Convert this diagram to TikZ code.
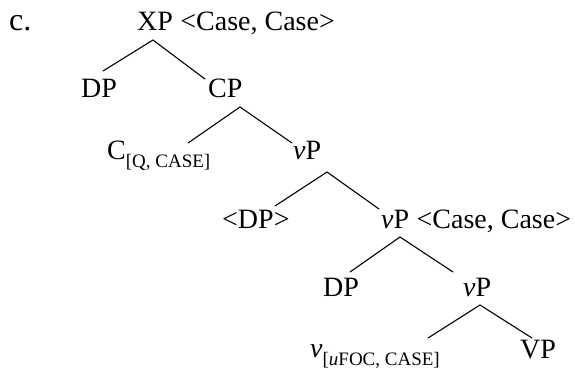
\documentclass[tikz,border=0pt]{standalone}
\usepackage{fontspec}
\setmainfont{Liberation Serif}
\usetikzlibrary{calc}
% lowered feature bundle on a head
\newcommand\featsub[1]{\raisebox{-8.5pt}{\fontsize{19}{19}\selectfont #1}}
\tikzset{
  lbl/.style={anchor=base west, inner sep=0pt, font=\fontsize{28}{34}\selectfont},
  branch/.style={line width=1.1pt, line cap=round},
}
\begin{document}
\begin{tikzpicture}[x=1pt,y=1pt]
\useasboundingbox (0,0) rectangle (575,-370);

% labels
\node[lbl, font=\fontsize{32}{38}\selectfont] (ex) at (9,-30) {c.};
\node[lbl] (XP)  at (137,-30) {XP};
\node[lbl] (xpf) at ($(XP.base east)+(7,0)$) {<Case, Case>};
\node[lbl] (DPa) at (81,-97)  {DP};
\node[lbl] (CP)  at (208,-97) {CP};
\node[lbl] (C)   at (107,-159) {C\featsub{[Q, CASE]}};
\node[lbl] (vPa) at (293,-159) {\textit{v}P};
\node[lbl] (DPt) at (222,-228) {<DP>};
\node[lbl] (vPb) at (381,-228) {\textit{v}P};
\node[lbl] (vpf) at ($(vPb.base east)+(7,0)$) {<Case, Case>};
\node[lbl] (DPb) at (323,-296) {DP};
\node[lbl] (vPc) at (463,-296) {\textit{v}P};
\node[lbl] (v)   at (310,-357) {\textit{v}\featsub{[\textit{u}FOC, CASE]}};
\node[lbl] (VP)  at (520,-358) {VP};

% branches
\draw[branch] ($(XP.base west)+(16,-10)$) -- ($(DPa.base west)+(22,26)$);
\draw[branch] ($(XP.base west)+(16,-10)$) -- ($(CP.base west)+(-3,18)$);
\draw[branch] ($(CP.base west)+(32,-10)$) -- ($(C.base west)+(81,16)$);
\draw[branch] ($(CP.base west)+(32,-10)$) -- ($(vPa.base west)+(-1,16)$);
\draw[branch] ($(vPa.base west)+(34,-13)$) -- ($(DPt.base west)+(53,22)$);
\draw[branch] ($(vPa.base west)+(34,-13)$) -- ($(vPb.base west)+(-2,19)$);
\draw[branch] ($(vPb.base west)+(19,-9)$) -- ($(DPb.base west)+(27,24)$);
\draw[branch] ($(vPb.base west)+(19,-9)$) -- ($(vPc.base west)+(-10,24)$);
\draw[branch] ($(vPc.base west)+(17,-9)$) -- ($(v.base west)+(118,19)$);
\draw[branch] ($(vPc.base west)+(17,-9)$) -- ($(VP.base west)+(12,20)$);
\end{tikzpicture}
\end{document}
